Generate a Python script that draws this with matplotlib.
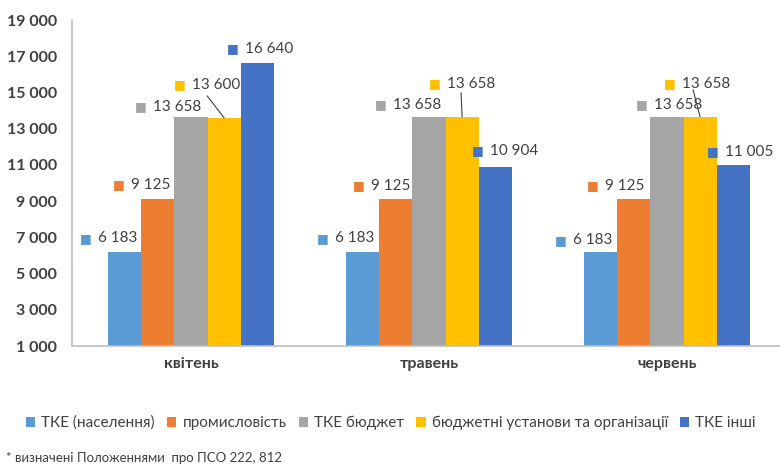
import matplotlib
matplotlib.use("Agg")
import matplotlib.pyplot as plt
import numpy as np

months = ["квітень", "травень", "червень"]
series_names = ["ТКЕ (населення)", "промисловість", "ТКЕ бюджет",
                "бюджетні установи та організації", "ТКЕ інші"]
tke_naselennia = [6183, 6183, 6183]
promyslovist = [9125, 9125, 9125]
tke_budzhet = [13658, 13658, 13658]
budzhetni_ustanovy = [13600, 13658, 13658]
tke_inshi = [16640, 10904, 11005]
yticks = list(range(1000, 19001, 2000))
footnote = "* визначені Положеннями  про ПСО 222, 812"

series = [tke_naselennia, promyslovist, tke_budzhet, budzhetni_ustanovy, tke_inshi]
colors = ["#5B9BD5", "#ED7D31", "#A5A5A5", "#FFC000", "#4472C4"]

# label offsets in pixels (text start dx, dy) relative to bar top centre
label_off = [
    [(-27, 14), (-27, 14), (-38, 10), (-32, 33), (-12, 14)],
    [(-28, 14), (-25, 13), (-36, 12), (-15, 33), (-5, 16)],
    [(-28, 12), (-29, 13), (-13, 12), (-18, 33), (-8, 13)],
]
leader = [(-17, 22, 3, 0), (-1, 24, 1, 0), (-7, 27, 0, 0)]

PX = 0.72  # px -> pt at dpi 100
plt.rcParams["font.family"] = ["Lato", "DejaVu Sans"]

fig = plt.figure(figsize=(7.8, 4.66), dpi=100)
ax = fig.add_axes([72/780, 1-346/466, (786-72)/780, (346-20)/466])

x = np.arange(len(months))
w = 0.139
for i, (vals, c, name) in enumerate(zip(series, colors, series_names)):
    xs = x + (i - 2) * w
    ax.bar(xs, [v - 1000 for v in vals], bottom=1000, width=w, color=c, label=name)
    for j, (xx, v) in enumerate(zip(xs, vals)):
        dx, dy = label_off[j][i]
        txt = f"{v:,}".replace(",", " ")
        ax.annotate(txt, xy=(xx, v), xytext=(dx*PX, dy*PX), textcoords="offset points",
                    ha="left", va="center", fontsize=11, color="#404040")
        ax.annotate("■", xy=(xx, v), xytext=((dx-12)*PX, dy*PX), textcoords="offset points",
                    ha="center", va="center", fontsize=9, color=c, family="DejaVu Sans")
        if i == 3:
            sx, sy, ex, ey = leader[j]
            ax.annotate("", xy=(xx, v), xytext=(sx*PX, sy*PX), textcoords="offset points",
                        arrowprops=dict(arrowstyle="-", color="#404040", lw=0.8,
                                        shrinkA=0, shrinkB=0))

ax.set_xlim(-0.5, 2.5)
ax.set_ylim(1000, 19000)
ax.set_yticks(yticks)
ax.set_yticklabels([f"{t:,}".replace(",", " ") for t in yticks],
                   fontsize=11.5, color="#404040", fontweight="bold")
ax.set_xticks(x)
ax.set_xticklabels(months, fontsize=11.5, color="#404040", fontweight="bold")
ax.tick_params(axis="y", length=0, pad=11)
ax.tick_params(axis="x", length=0, pad=8)
for s in ["top", "right"]:
    ax.spines[s].set_visible(False)
for s in ["left", "bottom"]:
    ax.spines[s].set_color("#BFBFBF")
    ax.spines[s].set_linewidth(1.2)

fig.legend(loc="center", bbox_to_anchor=(391/780, 1-423/466), ncol=5, frameon=False,
           fontsize=11, handlelength=0.6, handleheight=0.6, handletextpad=0.4,
           columnspacing=0.8, labelcolor="#404040")
fig.text(6/780, 1-458/466, footnote, fontsize=9.5, color="#404040", va="center")

fig.savefig("out.png", dpi=100)
